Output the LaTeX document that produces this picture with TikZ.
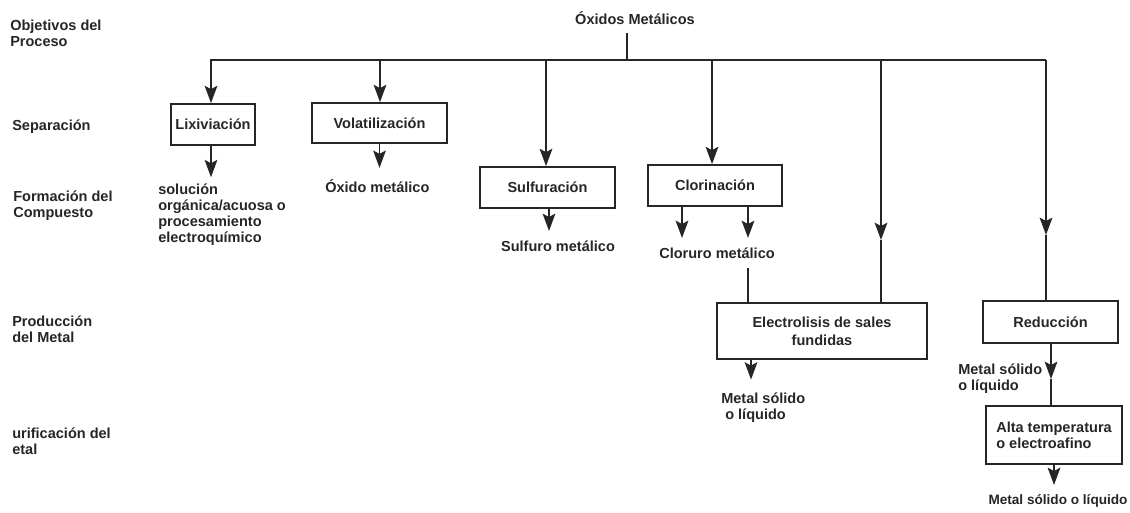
\documentclass[tikz,border=0pt]{standalone}
\usepackage{fontspec}
\setmainfont{Liberation Sans}
\usetikzlibrary{arrows.meta}
\definecolor{ink}{HTML}{262626}
\begin{document}
\begin{tikzpicture}[x=0.75pt,y=-0.75pt,
  every node/.style={font=\bfseries\fontsize{10.9}{12}\selectfont, text=ink, inner sep=0pt},
  lbl/.style={anchor=west, align=left},
  box/.style={draw=ink, line width=1.3pt, align=center},
  ln/.style={draw=ink, line width=1.4pt},
  arr/.style={ln, -{Stealth[length=13pt,width=9.5pt,inset=2.5pt]}},
]
\useasboundingbox (0,0) rectangle (1130,512);

% left row labels
\node[lbl] (r1) at (10,33) {Objetivos del\\Proceso};
\node[lbl] (r2) at (12,127) {Separación};
\node[lbl] (r3) at (13,206) {Formación del\\Compuesto};
\node[lbl] (r4) at (12,329) {Producción\\del Metal};
\node[lbl] (r5) at (12,441) {urificación del\\etal};

% title
\node (top) at (635,18) {Óxidos Metálicos};

% boxes
\node[box, minimum width=63pt, minimum height=30.75pt] (lix) at (213,124.5) {Lixiviación};
\node[box, minimum width=101.25pt, minimum height=30pt] (vol) at (379.5,123) {Volatilización};
\node[box, minimum width=101.25pt, minimum height=30.75pt] (sul) at (547.5,187.5) {Sulfuración};
\node[box, minimum width=100.5pt, minimum height=30.75pt] (clo) at (715,185.5) {Clorinación};
\node[box, minimum width=157.5pt, minimum height=42pt, font=\bfseries\fontsize{10.9}{13.5}\selectfont] (ele) at (822,331) {Electrolisis de sales\\fundidas};
\node[box, minimum width=101.25pt, minimum height=31.5pt] (red) at (1050.5,322) {Reducción};
\node[box, minimum width=102pt, minimum height=43.5pt, align=left] (alt) at (1054,435) {Alta temperatura\\o electroafino};

% product labels
\node[lbl] (sol) at (158,215) {solución\\orgánica/acuosa o\\procesamiento\\electroquímico};
\node[lbl] (oxm) at (325,186) {Óxido metálico};
\node (sfm) at (558,246) {Sulfuro metálico};
\node (clm) at (717,253) {Cloruro metálico};
\node[lbl] (ms1) at (721,408) {Metal sólido\\\hspace{3pt}o líquido};
\node[lbl] (ms2) at (958,379) {Metal sólido\\o líquido};
\node[font=\bfseries\fontsize{10.2}{12}\selectfont] (ms3) at (1058,501) {Metal sólido o líquido};

% bus
\coordinate (bl) at (210,60);
\coordinate (br) at (1046,60);
\coordinate (stub) at (627,60);
\draw[ln] (bl) -- (br);
\draw[ln] (stub |- top.south) ++(0,8) -- (stub);

% branches from bus
\coordinate (b1) at (211,60);
\coordinate (b2) at (380,60);
\coordinate (b3) at (546,60);
\coordinate (b4) at (712,60);
\coordinate (b5) at (881,60);
\coordinate (b6) at (1046,60);
\draw[arr] (b1) -- (b1 |- lix.north);
\draw[arr] (b2) -- (b2 |- vol.north);
\draw[arr] (b3) -- (b3 |- sul.north);
\draw[arr] (b4) -- (b4 |- clo.north);
\coordinate (m5) at (881,240);
\draw[arr] (b5) -- (m5);
\draw[ln] (m5) -- (m5 |- ele.north);
\coordinate (m6) at (1046,235);
\draw[arr] (b6) -- (m6);
\draw[ln] (m6) -- (m6 |- red.north);

% outputs
\coordinate (o1) at (211,0);
\draw[arr, shorten >=5pt] (o1 |- lix.south) -- (o1 |- sol.north);
\draw[arr] (vol.south) -- ++(0,24);
\coordinate (o3) at (549,0);
\draw[arr, shorten >=7pt] (o3 |- sul.south) -- (o3 |- sfm.north);
\coordinate (o4a) at (682,0);
\coordinate (o4b) at (748,0);
\draw[arr, shorten >=7pt] (o4a |- clo.south) -- (o4a |- clm.north);
\draw[arr, shorten >=7pt] (o4b |- clo.south) -- (o4b |- clm.north);
\coordinate (c1) at (748,268);
\draw[ln] (c1) -- (c1 |- ele.north);
\coordinate (o5) at (751,0);
\draw[arr, shorten >=10pt] (o5 |- ele.south) -- (o5 |- ms1.north);
\coordinate (m7) at (1051,379);
\draw[arr] (m7 |- red.south) -- (m7);
\draw[ln] (m7) -- (m7 |- alt.north);
\coordinate (o6) at (1054,0);
\draw[arr, shorten >=7pt] (o6 |- alt.south) -- (o6 |- ms3.north);
\end{tikzpicture}
\end{document}
